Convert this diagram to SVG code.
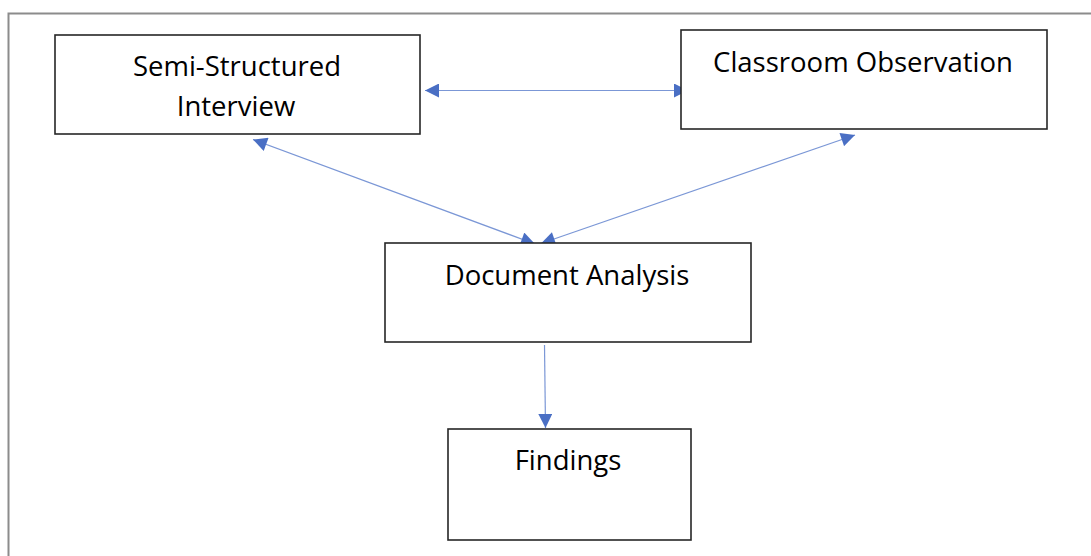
<svg xmlns="http://www.w3.org/2000/svg" width="1091" height="556" viewBox="0 0 1091 556">
  <style>
    .frame { fill: none; stroke: #8c8c8c; stroke-width: 2; }
    .box { fill: #ffffff; stroke: #262626; stroke-width: 1.6; }
    .label { font-family: "Open Sans", Lato, "Liberation Sans", sans-serif; font-size: 27.5px; fill: #000000; text-anchor: middle; }
    .link { fill: none; stroke: #7b97d6; stroke-width: 1.2; }
  </style>
  <defs>
    <marker id="arrow" viewBox="0 0 10 10" refX="10" refY="5" markerWidth="15" markerHeight="14" markerUnits="userSpaceOnUse" orient="auto-start-reverse">
      <path d="M0,0 L10,5 L0,10 Z" fill="#4a6fc4"/>
    </marker>
  </defs>

  <rect width="1091" height="556" fill="#ffffff"/>
  <!-- outer frame (open to the right and bottom) -->
  <path class="frame" d="M8.5,560 V13.5 H1095"/>

  <g id="connectors">
    <line class="link" x1="425" y1="90.5" x2="688" y2="90.5" marker-start="url(#arrow)" marker-end="url(#arrow)"/>
    <line class="link" x1="253" y1="139.5" x2="535" y2="244" marker-start="url(#arrow)" marker-end="url(#arrow)"/>
    <line class="link" x1="855" y1="135" x2="541" y2="243.5" marker-start="url(#arrow)" marker-end="url(#arrow)"/>
    <line class="link" x1="544.5" y1="345" x2="545.5" y2="428" marker-end="url(#arrow)"/>
  </g>

  <g id="interview">
    <rect class="box" x="55" y="35" width="365" height="99"/>
    <text class="label" x="237" y="75.5">Semi-Structured</text>
    <text class="label" x="236" y="115.5">Interview</text>
  </g>

  <g id="observation">
    <rect class="box" x="681" y="30" width="366" height="99"/>
    <text class="label" x="863" y="71.5">Classroom Observation</text>
  </g>

  <g id="document-analysis">
    <rect class="box" x="385" y="243" width="366" height="99"/>
    <text class="label" x="567" y="285">Document Analysis</text>
  </g>

  <g id="findings">
    <rect class="box" x="448" y="429" width="243" height="111"/>
    <text class="label" x="568" y="470">Findings</text>
  </g>
</svg>
